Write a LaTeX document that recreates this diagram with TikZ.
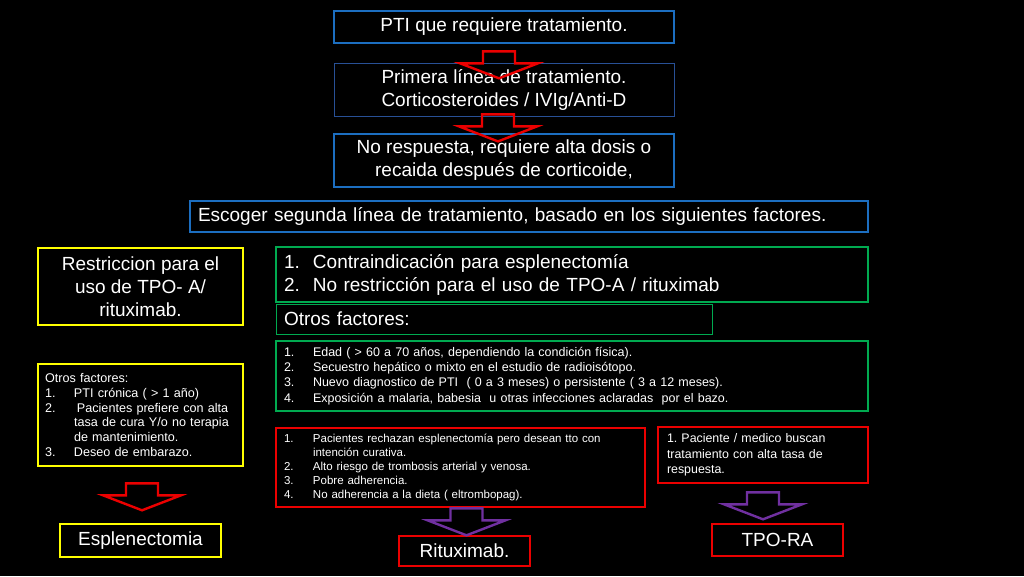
\documentclass[tikz,border=0pt]{standalone}
\usepackage{fontspec}
\setmainfont{Liberation Sans}
\usetikzlibrary{positioning,calc}

\definecolor{ptiblue}{RGB}{28,110,192}
\definecolor{darkblue}{RGB}{40,80,150}
\definecolor{ptigreen}{RGB}{0,170,80}
\definecolor{ptiyellow}{RGB}{255,255,0}
\definecolor{ptired}{RGB}{235,0,0}
\definecolor{ptipurple}{RGB}{112,48,160}

% number column for the lists
\newcommand{\num}[1]{\makebox[29pt][l]{#1}}
\newcommand{\hang}{\hspace*{29pt}}
% hollow block arrow, #1 colour, #2 top centre
\newcommand{\blockarr}[2]{%
  \draw[#1,line width=2.4pt,line join=miter] (#2) ++(-16,0) -- ++(32,0) -- ++(0,12)
    -- ++(23,0) -- ++(-39,15) -- ++(-39,-15) -- ++(23,0) -- cycle;}

\frenchspacing
\begin{document}
\begin{tikzpicture}[x=1pt,y=-1pt,
  box/.style={draw,fill=black,text=white,inner sep=0pt,align=center},
  big/.style={font=\fontsize{19}{23}\selectfont},
  bluebox/.style={box,big,draw=ptiblue,line width=2.6pt},
  thinblue/.style={box,big,draw=darkblue,line width=0.8pt},
  yelbox/.style={box,draw=ptiyellow,line width=2.6pt},
  grnbox/.style={box,draw=ptigreen,line width=2.6pt,align=left},
  redbox/.style={box,draw=ptired,line width=2.6pt}]
  \fill[black] (0,0) rectangle (1024,576);
  \useasboundingbox (0,0) rectangle (1024,576);

  % first line of treatment
  \node[bluebox,minimum width=340,minimum height=32] (pti) at (504,27) {PTI que requiere tratamiento.};
  \node[thinblue,minimum width=340,minimum height=53] (prim) at (504,89.5) {Primera línea de tratamiento.\\Corticosteroides / IVIg/Anti-D};
  \node[bluebox,minimum width=340,minimum height=53] (norsp) at (504,160.5) {No respuesta, requiere alta dosis o\\recaida después de corticoide,};
  \node[bluebox,line width=2pt,align=left,text width=662,minimum width=678,minimum height=31] (escoger) at (529,216.5) {Escoger segunda línea de tratamiento, basado en los siguientes factores.};

  % second line factors
  \node[yelbox,big,minimum width=205,minimum height=77] (restr) at (140.5,286.5) {Restriccion para el\\uso de TPO- A/\\rituximab.};
  \node[grnbox,big,line width=2pt,text width=576,minimum width=592,minimum height=55] (contra) at (572,274.5) {\num{1.}Contraindicación para esplenectomía\\\num{2.}No restricción para el uso de TPO-A / rituximab};
  \node[grnbox,big,line width=0.8pt,text width=420,minimum width=436,minimum height=30] (otros) at (494,319) {Otros factores:};
  \node[grnbox,font=\fontsize{12.5}{15.3}\selectfont,text width=576,minimum width=592,minimum height=70] (edad) at (572,376) {\num{1.}Edad ( > 60 a 70 años, dependiendo la condición física).\\
    \num{2.}Secuestro hepático o mixto en el estudio de radioisótopo.\\
    \num{3.}Nuevo diagnostico de PTI~ ( 0 a 3 meses) o persistente ( 3 a 12 meses).\\
    \num{4.}Exposición a malaria, babesia~ u otras infecciones aclaradas~ por el bazo.};
  \node[yelbox,font=\fontsize{12.6}{14.8}\selectfont,align=left,text width=191,minimum width=205,minimum height=102] (cronica) at (140.5,415) {Otros factores:\\
    \num{1.}PTI crónica ( > 1 año)\\
    \num{2.}\hspace{3pt}Pacientes prefiere con alta\\
    \hang tasa de cura Y/o no terapia\\
    \hang de mantenimiento.\\
    \num{3.}Deseo de embarazo.};
  \node[redbox,font=\fontsize{11.5}{14}\selectfont,align=left,text width=353,minimum width=369,minimum height=79] (rechazo) at (460.5,467.5) {\num{1.}Pacientes rechazan esplenectomía pero desean tto con\\
    \hang intención curativa.\\
    \num{2.}Alto riesgo de trombosis arterial y venosa.\\
    \num{3.}Pobre adherencia.\\
    \num{4.}No adherencia a la dieta ( eltrombopag).};
  \node[redbox,align=left,font=\fontsize{12.4}{15.5}\selectfont,text width=192,minimum width=210,minimum height=56] (busca) at (763,455) {1. Paciente / medico buscan\\tratamiento con alta tasa de\\respuesta.};

  % choices
  \node[yelbox,big,minimum width=161,minimum height=33] (espl) at (140.5,540.5) {Esplenectomia};
  \node[redbox,big,minimum width=131,minimum height=30] (ritux) at (464.5,551) {Rituximab.};
  \node[redbox,big,minimum width=131,minimum height=32] (tpora) at (777.5,540) {TPO-RA};

  % block arrows
  \coordinate (a1) at ($(pti.south)+(-5,7)$);
  \coordinate (a2) at ($(prim.south)+(-6,-2)$);
  \coordinate (a3) at ($(cronica.south)+(1.5,16)$);
  \coordinate (a4) at ($(rechazo.south)+(6,0)$);
  \coordinate (a5) at ($(busca.south)+(0,8)$);
  \blockarr{ptired}{a1}
  \blockarr{ptired}{a2}
  \blockarr{ptired}{a3}
  \blockarr{ptipurple}{a4}
  \blockarr{ptipurple}{a5}
\end{tikzpicture}
\end{document}
